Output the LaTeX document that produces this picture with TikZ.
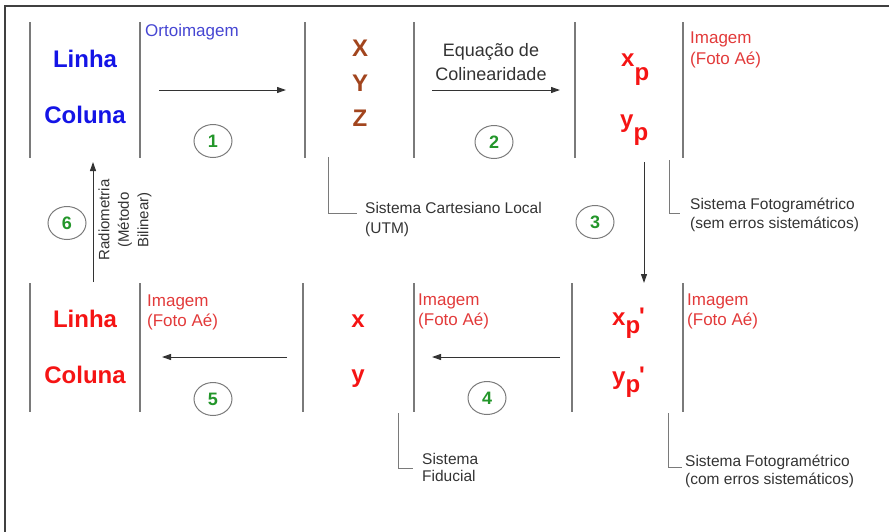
\documentclass[tikz,border=0pt]{standalone}
\usepackage{fontspec}
\setmainfont{Liberation Sans}
\usetikzlibrary{arrows.meta,shapes.geometric}
\definecolor{barc}{HTML}{7A7A7A}
\definecolor{blueA}{HTML}{1414E6}
\definecolor{blueB}{HTML}{4646D2}
\definecolor{redA}{HTML}{F51414}
\definecolor{redB}{HTML}{E23A3A}
\definecolor{brownA}{HTML}{A2451E}
\definecolor{greyT}{HTML}{333333}
\definecolor{greenN}{HTML}{23962A}
\begin{document}
\begin{tikzpicture}[x=1pt,y=-1pt,
  bar/.style={draw=barc,line width=1.4pt},
  lead/.style={draw=barc,line width=1pt},
  arr/.style={draw=black!80,line width=1pt,-{Triangle[length=9pt,width=6pt]}},
  big/.style={font=\fontsize{24}{28}\selectfont\bfseries,inner sep=0pt,anchor=base},
  bigw/.style={font=\fontsize{24}{28}\selectfont\bfseries,inner sep=0pt,anchor=base west,text=redA},
  lab/.style={font=\fontsize{17}{21}\selectfont,anchor=base west,inner sep=0pt},
  note/.style={font=\fontsize{15.5}{18.5}\selectfont,text=greyT,anchor=base west,inner sep=0pt},
  num/.style={draw=barc,line width=1pt,ellipse,minimum width=38pt,minimum height=33pt,inner sep=0pt,text=greenN,font=\fontsize{18}{20}\selectfont\bfseries},
]
\useasboundingbox (0,0) rectangle (889,531);
% outer frame (cut by the page edges)
\draw[draw=black!75,line width=2pt] (5,545) -- (5,6) -- (900,6);

% separator bars
\foreach \x in {30,140,305,414,575,683} \draw[bar] (\x,22) -- (\x,158);
\foreach \x in {30,140,303,414,572,683} \draw[bar] (\x,283) -- (\x,412);

% ---- top row ----
\node[big,text=blueA] (lin1) at (85,67.5) {Linha};
\node[big,text=blueA] (col1) at (85,123.5) {Coluna};
\node[lab,text=blueB] (orto) at (145,36) {Ortoimagem};

\node[big,text=brownA] (X) at (360,56.5) {X};
\node[big,text=brownA] (Y) at (360,91.5) {Y};
\node[big,text=brownA] (Z) at (360,126.5) {Z};
\node[font=\fontsize{18}{24}\selectfont,text=greyT,align=center,inner sep=0pt,anchor=base] (eq1) at (491,56) {Equação de};
\node[font=\fontsize{18}{24}\selectfont,text=greyT,align=center,inner sep=0pt,anchor=base] (eq2) at (491,80) {Colinearidade};

\node[bigw] (xp) at (621,66) {x\raisebox{-14pt}{p}};
\node[bigw] (yp) at (620,127.5) {y\raisebox{-13pt}{p}};
\node[lab,text=redB] (im3a) at (690,43.5) {Imagem};
\node[lab,text=redB] (im3b) at (690,64.5) {(Foto Aé)};

\node[note] (cart1) at (365,213) {Sistema Cartesiano Local};
\node[note] (cart2) at (365,233) {(UTM)};
\node[note] (fot1) at (690,209) {Sistema Fotogramétrico};
\node[note] (fot2) at (690,228) {(sem erros sistemáticos)};

% ---- bottom row ----
\node[big,text=redA] (lin2) at (85,327.5) {Linha};
\node[big,text=redA] (col2) at (85,383.5) {Coluna};
\node[lab,text=redB] (im1a) at (147,306) {Imagem};
\node[lab,text=redB] (im1b) at (147,326) {(Foto Aé)};

\node[big,text=redA] (xf) at (358,327) {x};
\node[big,text=redA] (yf) at (358,382) {y};
\node[lab,text=redB] (im2a) at (418,305) {Imagem};
\node[lab,text=redB] (im2b) at (418,325) {(Foto Aé)};

\node[bigw] (xpp) at (612,325) {x\raisebox{-8pt}{p}\kern-1pt\raisebox{1pt}{\textquotesingle}};
\node[bigw] (ypp) at (612,384) {y\raisebox{-8pt}{p}\kern-1pt\raisebox{1pt}{\textquotesingle}};
\node[lab,text=redB] (im4a) at (687,305) {Imagem};
\node[lab,text=redB] (im4b) at (687,325) {(Foto Aé)};

\node[note] (fid1) at (422,464) {Sistema};
\node[note] (fid2) at (422,481) {Fiducial};
\node[note] (fc1) at (685,466) {Sistema Fotogramétrico};
\node[note] (fc2) at (685,484) {(com erros sistemáticos)};

% rotated label of step 6
\node[font=\fontsize{15}{19.5}\selectfont,text=greyT,align=center,inner sep=0pt,rotate=90] (rad) at (125,220) {Radiometria\\(Método\\Bilinear)};

% numbered circles
\node[num] (n1) at (213,141) {1};
\node[num] (n2) at (494,142) {2};
\node[num] (n3) at (595,222) {3};
\node[num] (n4) at (487,398) {4};
\node[num] (n5) at (213,399) {5};
\node[num] (n6) at (67,223) {6};

% arrow end points
\coordinate (a1s) at (159,90);  \coordinate (a1e) at (286,90);
\coordinate (a2s) at (432,90);  \coordinate (a2e) at (560,90);
\coordinate (a3s) at (644,162); \coordinate (a3e) at (644,283);
\coordinate (a4s) at (560,357); \coordinate (a4e) at (432,357);
\coordinate (a5s) at (287,357); \coordinate (a5e) at (162,357);
\coordinate (a6s) at (93,282);  \coordinate (a6e) at (93,162);
\draw[arr] (a1s) -- (a1e);
\draw[arr] (a2s) -- (a2e);
\draw[arr] (a3s) -- (a3e);
\draw[arr] (a4s) -- (a4e);
\draw[arr] (a5s) -- (a5e);
\draw[arr] (a6s) -- (a6e);

% leader lines
\coordinate (lc1) at (328,157); \coordinate (lc2) at (357,213);
\coordinate (lf1) at (669,160); \coordinate (lf2) at (680,213);
\coordinate (ld1) at (398,413); \coordinate (ld2) at (413,468);
\coordinate (lg1) at (668,413); \coordinate (lg2) at (682,467);
\draw[lead] (lc1) |- (lc2);
\draw[lead] (lf1) |- (lf2);
\draw[lead] (ld1) |- (ld2);
\draw[lead] (lg1) |- (lg2);
\end{tikzpicture}
\end{document}
